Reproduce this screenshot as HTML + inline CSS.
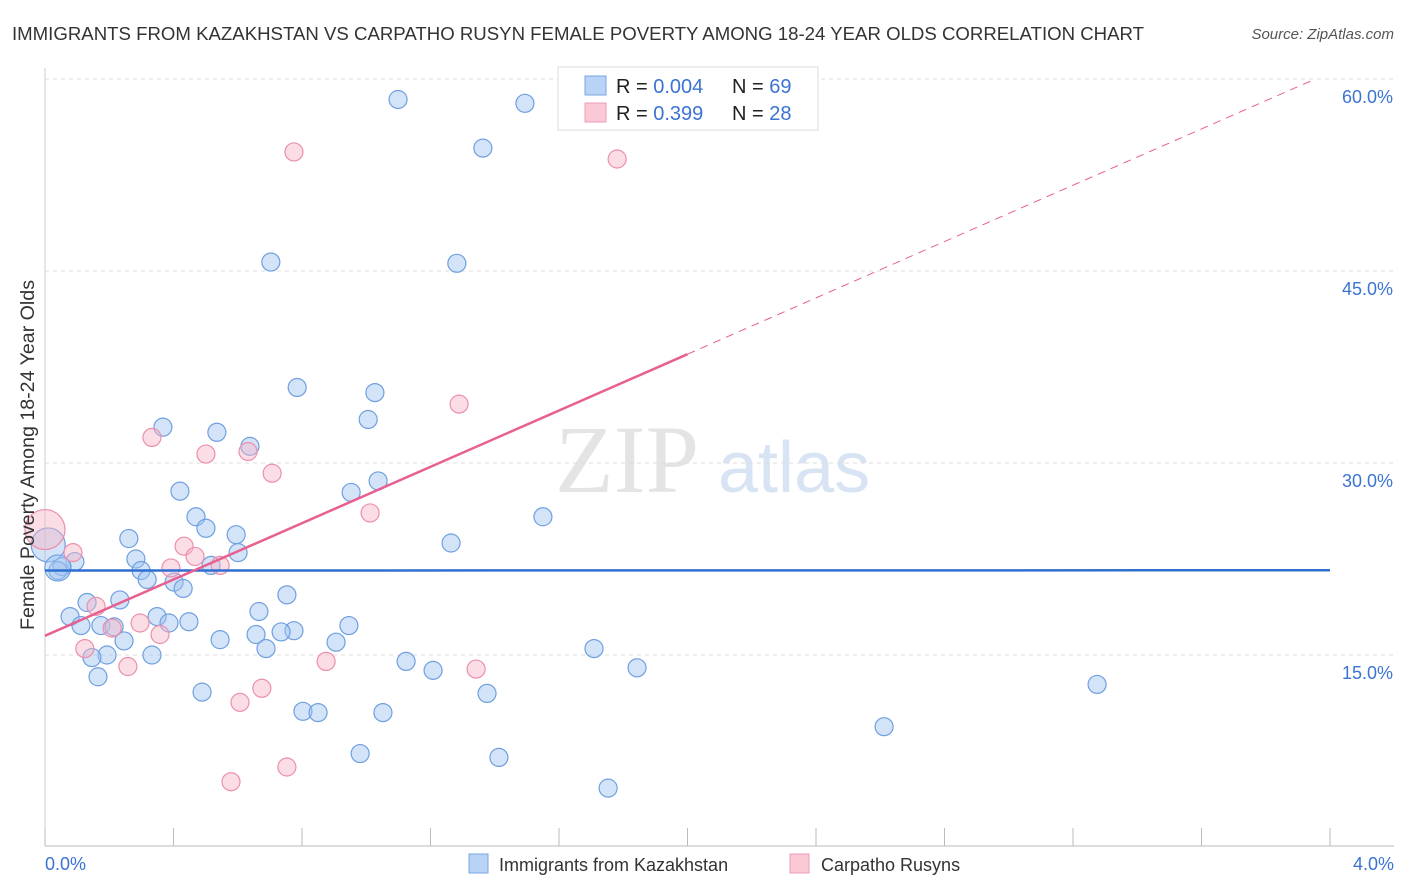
<!DOCTYPE html>
<html><head><meta charset="utf-8"><style>
body{margin:0;background:#fff;font-family:"Liberation Sans",sans-serif;}
svg{display:block}
</style></head><body>
<svg id="chart" width="1406" height="892" xmlns="http://www.w3.org/2000/svg">
<text x="12" y="40" font-size="18" fill="#333" textLength="1132" lengthAdjust="spacingAndGlyphs">IMMIGRANTS FROM KAZAKHSTAN VS CARPATHO RUSYN FEMALE POVERTY AMONG 18-24 YEAR OLDS CORRELATION CHART</text>
<text x="1394" y="39" font-size="15" fill="#555" font-style="italic" text-anchor="end">Source: ZipAtlas.com</text>
<text x="555" y="492" font-size="96" fill="#e4e4e4" font-family="Liberation Serif,serif">ZIP</text>
<text x="718" y="492" font-size="72" fill="#d8e4f4">atlas</text>
<g id="grid"></g><g id="axes"></g><g id="marks"></g>
<text transform="translate(34,455) rotate(-90)" font-size="19" fill="#333" text-anchor="middle" textLength="350" lengthAdjust="spacingAndGlyphs">Female Poverty Among 18-24 Year Olds</text>
<text x="45" y="870" font-size="18" fill="#3b73d4">0.0%</text>
<text x="1394" y="870" font-size="18" fill="#3b73d4" text-anchor="end">4.0%</text>
<g>
<rect x="558" y="67" width="260" height="63" fill="#fff" stroke="#ddd"/>
<rect x="585" y="76" width="21" height="19" fill="#b9d3f6" stroke="#7aa5e3"/>
<rect x="585" y="103" width="21" height="19" fill="#fbc9d6" stroke="#ee9cb4"/>
<text x="616" y="93" font-size="20" fill="#222">R = <tspan fill="#3b73d4">0.004</tspan></text>
<text x="732" y="93" font-size="20" fill="#222">N = <tspan fill="#3b73d4">69</tspan></text>
<text x="616" y="120" font-size="20" fill="#222">R = <tspan fill="#3b73d4"> 0.399</tspan></text>
<text x="732" y="120" font-size="20" fill="#222">N = <tspan fill="#3b73d4">28</tspan></text>
</g>
<g>
<rect x="469" y="854" width="19" height="19" fill="#b9d3f6" stroke="#7aa5e3"/>
<text x="499" y="871" font-size="18" fill="#333">Immigrants from Kazakhstan</text>
<rect x="790" y="854" width="19" height="19" fill="#fbc9d6" stroke="#ee9cb4"/>
<text x="821" y="871" font-size="18" fill="#333">Carpatho Rusyns</text>
</g>
</svg>
<script>
const yTicks=[15,30,45,60];
const yTickLabels=["15.0%","30.0%","45.0%","60.0%"];
const xTicks=[0,0.4,0.8,1.2,1.6,2.0,2.4,2.8,3.2,3.6,4.0];
const blueX=[1.099,1.494,1.363,0.703,1.282,0.785,1.027,1.006,0.367,0.535,0.638,0.420,0.953,1.037,1.550,0.470,0.501,0.595,0.261,1.264,0.601,0.283,0.093,0.053,0.040,0.299,0.517,0.318,0.402,0.430,0.753,0.233,0.131,0.666,0.349,0.078,0.386,0.448,0.112,0.174,0.215,0.946,0.657,0.775,0.735,0.246,0.545,0.906,0.688,1.709,0.193,0.333,0.146,1.124,1.208,1.843,0.165,3.275,0.489,1.376,0.803,0.850,1.052,2.612,0.981,1.413,1.753,0.01,0.04];
const blueY=[58.4,58.1,54.6,45.7,45.6,35.9,35.5,33.4,32.8,32.4,31.3,27.8,27.7,28.6,25.8,25.8,24.9,24.4,24.1,23.75,23.0,22.5,22.3,21.9,21.6,21.6,22.0,20.9,20.7,20.2,19.7,19.3,19.1,18.4,18.0,18.0,17.5,17.6,17.3,17.3,17.2,17.3,16.6,16.9,16.8,16.1,16.2,16.0,15.5,15.5,15.0,15.0,14.8,14.5,13.8,14.0,13.3,12.7,12.1,12.0,10.6,10.5,10.5,9.4,7.3,7.0,4.6,23.6,21.8];
const blueR=[9,9,9,9,9,9,9,9,9,9,9,9,9,9,9,9,9,9,9,9,9,9,9,9,9,9,9,9,9,9,9,9,9,9,9,9,9,9,9,9,9,9,9,9,9,9,9,9,9,9,9,9,9,9,9,9,9,9,9,9,9,9,9,9,9,9,9,17,13];
const pinkX=[0.775,1.781,1.289,0.333,0.501,0.632,0.707,1.012,0.087,0.433,0.467,0.392,0.545,0.159,0.209,0.296,0.124,0.358,0.258,0.875,1.342,0.675,0.607,0.753,0.579,0.0];
const pinkY=[54.3,53.75,34.6,32.0,30.7,30.9,29.2,26.1,23.0,23.5,22.7,21.8,22.0,18.8,17.1,17.5,15.5,16.6,14.1,14.5,13.9,12.4,11.3,6.25,5.1,24.8];
const pinkR=[9,9,9,9,9,9,9,9,9,9,9,9,9,9,9,9,9,9,9,9,9,9,9,9,9,20];
const blueFit=[21.6,21.8];
const pinkFit=[16.5,38.5];
const X=v=>45+v*321.25, Y=v=>847-v*12.8;
const NS="http://www.w3.org/2000/svg";
function mk(t,a,p){const e=document.createElementNS(NS,t);for(const k in a)e.setAttribute(k,a[k]);p.appendChild(e);return e;}
const grid=document.getElementById('grid'),axes=document.getElementById('axes'),marks=document.getElementById('marks');
yTicks.forEach((v,i)=>{
 const l=mk('line',{x1:45,x2:1394,y1:Y(v),y2:Y(v),stroke:'#ddd','stroke-dasharray':'4,4'},grid);
 
 
 const t=mk('text',{x:1393,y:Y(v)+24,'font-size':18,fill:'#3b73d4','text-anchor':'end'},axes);
 t.textContent=yTickLabels[i];
 
 
});
const ax=mk('line',{x1:45,x2:1394,y1:846,y2:846,stroke:'#bbb'},axes);


const ay=mk('line',{x1:45,x2:45,y1:68,y2:846,stroke:'#ccc'},axes);


xTicks.forEach(v=>{const t=mk('line',{x1:X(v),x2:X(v),y1:828,y2:846,stroke:'#bbb'},axes);
 
 });
blueX.forEach((v,i)=>{const c=mk('circle',{cx:X(v),cy:Y(blueY[i]),r:blueR[i],fill:'rgba(160,195,240,0.45)',stroke:'#6f9fe0','stroke-width':1.2},marks);
 
 });
pinkX.forEach((v,i)=>{const c=mk('circle',{cx:X(v),cy:Y(pinkY[i]),r:pinkR[i],fill:'rgba(246,180,200,0.45)',stroke:'#ec8fab','stroke-width':1.2},marks);
 
 });
const bl=mk('line',{x1:X(0),x2:X(4),y1:Y(blueFit[0]),y2:Y(blueFit[0]+0.02),stroke:'#2f6fd1','stroke-width':2.5},marks);


const slope=(pinkFit[1]-pinkFit[0])/2;
const pl=mk('line',{x1:X(0),x2:X(2),y1:Y(pinkFit[0]),y2:Y(pinkFit[1]),stroke:'#e8608f','stroke-width':2.5},marks);


const pd=mk('line',{x1:X(2),x2:X(3.95),y1:Y(pinkFit[1]),y2:Y(pinkFit[0]+slope*3.95),stroke:'#e8608f','stroke-width':1,'stroke-dasharray':'8,6'},marks);


</script>
</body></html>
